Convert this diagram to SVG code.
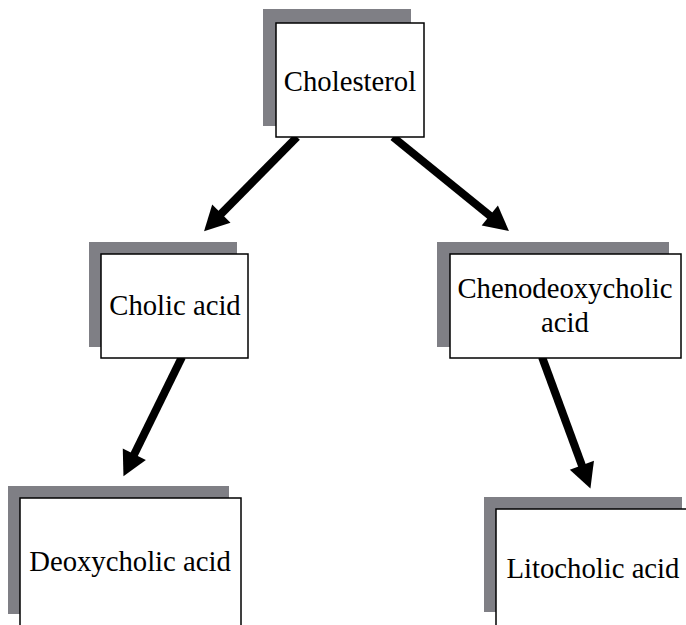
<svg xmlns="http://www.w3.org/2000/svg" width="686" height="625" viewBox="0 0 686 625">
<style>
.sh{fill:#7f7f85}
.bx{fill:#fff;stroke:#000;stroke-width:1.5}
.t{font-family:"Liberation Serif","Times New Roman",serif;font-size:28.7px;fill:#000;text-anchor:middle}
.ar{stroke:#000;stroke-width:8;fill:none;marker-end:url(#ah)}
</style>
<defs>
<marker id="ah" markerUnits="userSpaceOnUse" markerWidth="30" markerHeight="30" viewBox="-4 -14 28 28" refX="0" refY="0" orient="auto">
<path d="M-3,-12 L20,0 L-3,12 z" fill="#000"/>
</marker>
</defs>
<rect width="686" height="625" fill="#fff"/>
<g id="connectors">
<line class="ar" x1="297" y1="137" x2="219.1" y2="215.9"/>
<line class="ar" x1="393" y1="137" x2="492.3" y2="217.6"/>
<line class="ar" x1="182" y1="357" x2="132.9" y2="457.1"/>
<line class="ar" x1="542" y1="357" x2="583" y2="468.3"/>
</g>
<g id="cholesterol">
<rect class="sh" x="263" y="9" width="148" height="117"/>
<rect class="bx" x="276" y="23" width="148" height="114"/>
<text class="t" x="350" y="91">Cholesterol</text>
</g>
<g id="cholic">
<rect class="sh" x="89" y="242" width="148" height="105"/>
<rect class="bx" x="101" y="254" width="147" height="104"/>
<text class="t" x="175" y="315">Cholic acid</text>
</g>
<g id="cheno">
<rect class="sh" x="437" y="242" width="232" height="105"/>
<rect class="bx" x="450" y="254" width="231" height="104"/>
<text class="t" x="565" y="298">Chenodeoxycholic</text>
<text class="t" x="565" y="332">acid</text>
</g>
<g id="deoxy">
<rect class="sh" x="8" y="486" width="221" height="128"/>
<rect class="bx" x="20" y="498" width="221" height="140"/>
<text class="t" x="130" y="571">Deoxycholic acid</text>
</g>
<g id="lito">
<rect class="sh" x="484" y="497" width="198" height="115"/>
<rect class="bx" x="496" y="509" width="200" height="130"/>
<text class="t" x="593" y="578">Litocholic acid</text>
</g>
</svg>
